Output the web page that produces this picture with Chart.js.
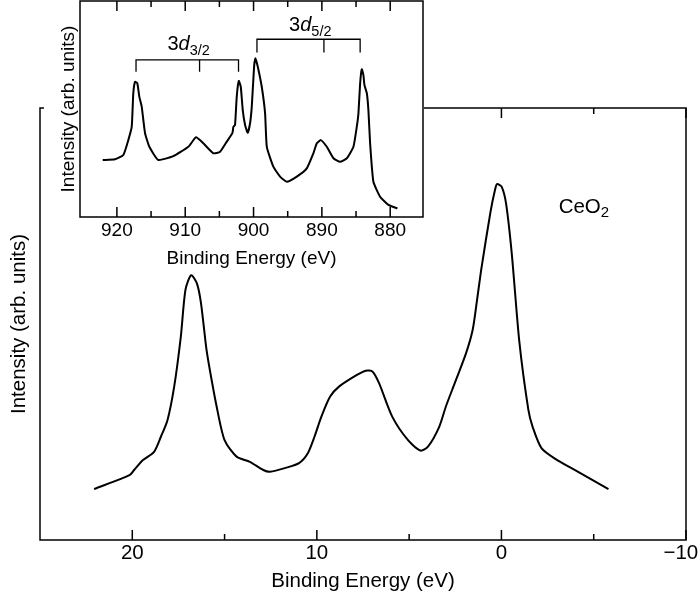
<!DOCTYPE html>
<html><head><meta charset="utf-8">
<script src="https://cdn.jsdelivr.net/npm/chart.js@4.4.0/dist/chart.umd.min.js"></script>
<style>
html,body{margin:0;padding:0;background:#fff;}
#wrap{position:relative;width:698px;height:599px;overflow:hidden;}
#main{position:absolute;left:0;top:0;}
#inset{position:absolute;left:44px;top:0;background:#fff;}
</style></head><body>
<div id="wrap">
<canvas id="main" width="698" height="599"></canvas>
<canvas id="inset" width="380" height="272"></canvas>
</div>
<script>
// ---- Main valence-band spectrum (Binding energy in eV, intensity arb.) ----
const mainEnergy = [22.07,20.15,19.90,19.42,18.82,18.45,18.09,17.73,17.37,17.12,16.81,16.50,16.28,15.99,15.80,15.43,15.00,14.35,13.63,12.90,12.54,11.69,10.97,10.49,10.13,9.76,9.28,8.80,7.83,7.35,6.99,6.63,5.91,5.06,4.38,3.98,3.37,3.01,2.53,1.92,1.56,1.32,1.08,0.59,0.35,0.24,-0.01,-0.25,-0.56,-0.97,-1.46,-1.69,-2.18,-3.02,-3.99,-5.80];
const mainIntensity = [11.8,15.0,16.2,18.5,20.4,23.9,27.8,35.5,47.1,57.9,61.3,59.4,54.9,44.4,39.4,30.9,23.1,19.3,18.1,16.2,15.8,16.7,17.8,20.1,23.9,28.5,33.2,35.5,38.2,39.2,39.0,36.3,28.5,23.1,20.7,21.6,26.2,30.9,36.3,43.2,48.6,55.6,63.0,76.0,81.0,82.4,81.8,77.9,66.3,45.9,30.1,26.2,21.2,18.5,16.2,11.8];
const mainMajorTicks = [20,10,0,-10];
const mainMinorTicks = [15,5,-5];
const mainXRange = [-10,25];
const sampleLabel = ['CeO','2'];
const sampleLabelPos = [-3.1,75.7];

// ---- Inset: Ce 3d core level ----
const insetEnergy = [922.08,920.28,919.06,918.33,917.83,917.60,917.35,917.01,916.72,916.37,915.88,915.25,913.94,911.74,909.54,908.42,907.35,905.88,904.90,903.92,903.10,902.95,902.71,902.46,902.16,901.87,901.58,901.24,900.85,900.51,900.26,899.92,899.73,899.38,898.80,898.31,898.06,897.10,896.12,895.14,893.67,892.21,891.24,890.74,890.16,889.28,888.31,887.33,886.35,885.38,884.89,884.65,884.40,884.16,883.92,883.77,883.42,883.19,882.94,882.46,881.48,880.26,878.94];
const insetIntensity = [26.4,26.7,28.7,35.6,41.8,57.3,62.6,61.9,55.7,51.1,38.8,32.5,26.4,28.2,32.5,36.9,34.1,29.5,30.2,34.9,38.8,41.8,42.6,55.7,63.0,60.3,49.5,42.6,39.0,43.4,51.1,69.6,73.5,69.6,60.3,48.0,32.5,23.3,18.7,16.3,18.7,22.5,29.5,34.1,35.6,32.5,27.2,25.6,27.2,32.5,41.8,48.0,61.9,68.4,65.7,61.1,57.3,49.5,34.1,16.3,9.4,5.6,4.0];
const insetMajorTicks = [920,910,900,890,880];
const insetMinorTicks = [915,905,895,885];
const insetXRange = [875.2,925.4];
const bracketMain = ['3','3'];
const bracketItalic = ['d','d'];
const bracketSub = ['3/2','5/2'];
const bracketLeft = [917.2,899.5];
const bracketMid = [907.9,889.7];
const bracketRight = [902.2,884.4];
const bracketTop = [72.7,82.3];
const bracketBottom = [67.3,76.1];
const bracketLabelX = [912.6,894.8];
const bracketLabelY = [77.3,86.3];

const FONT = "'Liberation Sans', Arial, Helvetica, sans-serif";
Chart.defaults.font.family = FONT;
Chart.defaults.color = '#000';

const framePlugin = {
  id: 'frame',
  afterDraw(chart, args, o) {
    const {ctx, chartArea: a} = chart;
    const x = chart.scales.x;
    ctx.save();
    ctx.strokeStyle = '#000';
    ctx.lineWidth = o.lw;
    ctx.strokeRect(a.left, a.top, a.right - a.left, a.bottom - a.top);
    const draw = (vals, len) => vals.forEach(v => {
      const px = x.getPixelForValue(v);
      ctx.beginPath();
      ctx.moveTo(px, a.bottom); ctx.lineTo(px, a.bottom - len);
      ctx.moveTo(px, a.top); ctx.lineTo(px, a.top + len);
      ctx.stroke();
    });
    draw(o.major, o.majorLen);
    draw(o.minor, o.minorLen);
    ctx.restore();
  }
};

const textPlugin = {
  id: 'texts',
  afterDraw(chart, args, o) {
    const {ctx} = chart;
    const x = chart.scales.x, y = chart.scales.y;
    ctx.save();
    ctx.fillStyle = '#000';
    ctx.textAlign = 'left';
    ctx.textBaseline = 'alphabetic';
    (o.items || []).forEach(it => {
      let px = x.getPixelForValue(it.x);
      const py = y.getPixelForValue(it.y);
      it.parts.forEach(p => {
        ctx.font = p.font;
        ctx.fillText(p.text, px, py + (p.dy || 0));
        px += ctx.measureText(p.text).width;
      });
    });
    ctx.restore();
  }
};

const toPts = (xs, ys) => xs.map((v, i) => ({x: v, y: ys[i]}));
const minusFmt = v => v < 0 ? '\u2212' + Math.abs(v) + '\u2002' : String(v);
const noPad = s => { s.paddingLeft = 0; s.paddingRight = 0; s.paddingTop = 0; s.paddingBottom = 0; };

// ---------- Main chart ----------
new Chart(document.getElementById('main'), {
  type: 'line',
  data: {datasets: [{
    data: toPts(mainEnergy, mainIntensity),
    borderColor: '#000', borderWidth: 2, pointRadius: 0, tension: 0.25, fill: false
  }]},
  options: {
    responsive: false, animation: false, events: [],
    layout: {padding: {top: 108, right: 12, left: 0, bottom: 0}, autoPadding: false},
    plugins: {
      legend: {display: false}, tooltip: {enabled: false},
      frame: {lw: 1.5, major: mainMajorTicks, minor: mainMinorTicks, majorLen: 10, minorLen: 6},
      texts: {items: [{x: sampleLabelPos[0], y: sampleLabelPos[1], parts: [
        {text: sampleLabel[0], font: '20.5px ' + FONT},
        {text: sampleLabel[1], font: '15px ' + FONT, dy: 4}
      ]}]}
    },
    scales: {
      x: {
        type: 'linear', reverse: true, min: mainXRange[0], max: mainXRange[1],
        grid: {display: false, drawTicks: false}, border: {display: false},
        ticks: {stepSize: 10, includeBounds: false, padding: 1, font: {size: 20.5}, maxRotation: 0, autoSkip: false, callback: minusFmt},
        title: {display: true, text: 'Binding Energy (eV)', font: {size: 20.5}, padding: {top: 0, bottom: 5}},
        afterFit(s) { s.height = 59; noPad(s); }
      },
      y: {
        min: 0, max: 100,
        grid: {display: false, drawTicks: false}, border: {display: false},
        ticks: {display: false},
        title: {display: true, text: 'Intensity (arb. units)', font: {size: 20.5}, padding: {top: 7, bottom: 0}},
        afterFit(s) { s.width = 40; noPad(s); }
      }
    }
  },
  plugins: [framePlugin, textPlugin]
});

// ---------- Inset chart ----------
const insetSets = [{
  data: toPts(insetEnergy, insetIntensity),
  borderColor: '#000', borderWidth: 2, pointRadius: 0, tension: 0.15, fill: false
}];
bracketLeft.forEach((l, i) => {
  insetSets.push({
    data: [{x: l, y: bracketBottom[i]}, {x: l, y: bracketTop[i]}, {x: bracketRight[i], y: bracketTop[i]}, {x: bracketRight[i], y: bracketBottom[i]}],
    borderColor: '#000', borderWidth: 1.3, pointRadius: 0, tension: 0, fill: false
  });
  insetSets.push({
    data: [{x: bracketMid[i], y: bracketTop[i]}, {x: bracketMid[i], y: bracketBottom[i]}],
    borderColor: '#000', borderWidth: 1.3, pointRadius: 0, tension: 0, fill: false
  });
});

new Chart(document.getElementById('inset'), {
  type: 'line',
  data: {datasets: insetSets},
  options: {
    responsive: false, animation: false, events: [],
    layout: {padding: {top: 1, right: 1, left: 0, bottom: 0}, autoPadding: false},
    plugins: {
      legend: {display: false}, tooltip: {enabled: false},
      frame: {lw: 1.5, major: insetMajorTicks, minor: insetMinorTicks, majorLen: 10, minorLen: 6},
      texts: {items: bracketLeft.map((_, i) => ({x: bracketLabelX[i], y: bracketLabelY[i], parts: [
        {text: bracketMain[i], font: '20px ' + FONT},
        {text: bracketItalic[i], font: 'italic 20px ' + FONT},
        {text: bracketSub[i], font: '14.5px ' + FONT, dy: 5}
      ]}))}
    },
    scales: {
      x: {
        type: 'linear', reverse: true, min: insetXRange[0], max: insetXRange[1],
        grid: {display: false, drawTicks: false}, border: {display: false},
        ticks: {stepSize: 10, includeBounds: false, padding: 2.6, font: {size: 19}, maxRotation: 0, autoSkip: false},
        title: {display: true, text: 'Binding Energy (eV)', font: {size: 19}, padding: {top: 0, bottom: 1.6}},
        afterFit(s) { s.height = 55; noPad(s); }
      },
      y: {
        min: 0, max: 100,
        grid: {display: false, drawTicks: false}, border: {display: false},
        ticks: {display: false},
        title: {display: true, text: 'Intensity (arb. units)', font: {size: 19}, padding: {top: 13.6, bottom: 0}},
        afterFit(s) { s.width = 36; noPad(s); }
      }
    }
  },
  plugins: [framePlugin, textPlugin]
});
</script>
</body></html>
